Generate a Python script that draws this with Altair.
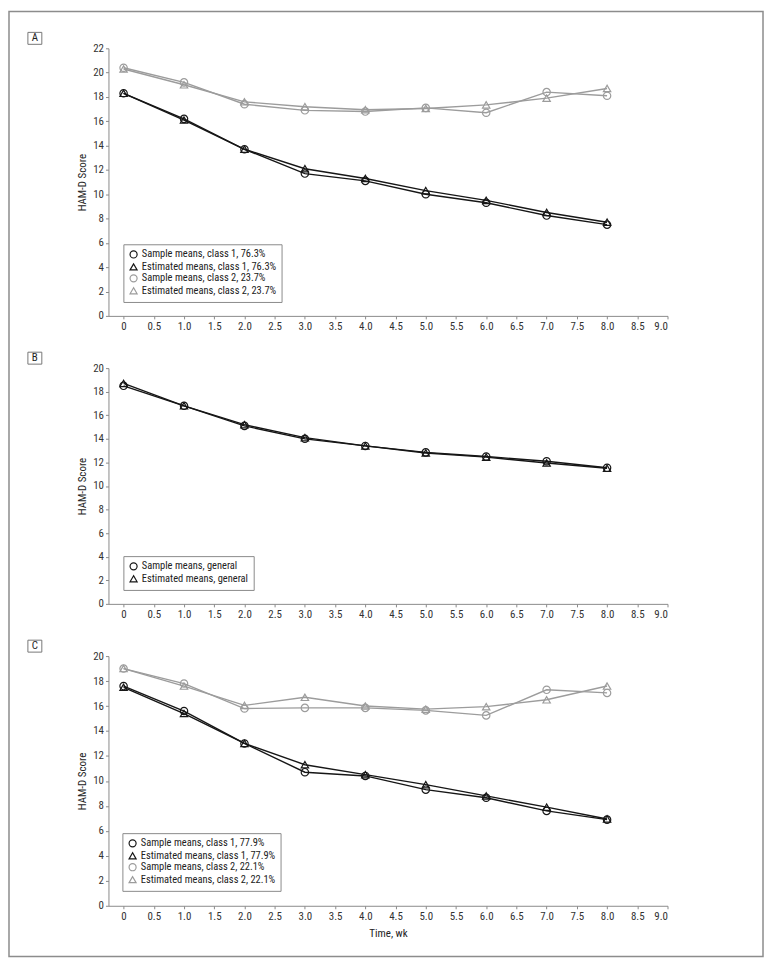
import altair as alt
import pandas as pd

weeks = [0, 1, 2, 3, 4, 5, 6, 7, 8]

# Panel A
A_names = ["Sample means, class 1, 76.3%", "Estimated means, class 1, 76.3%",
           "Sample means, class 2, 23.7%", "Estimated means, class 2, 23.7%"]
A_s1 = [18.3, 16.2, 13.7, 11.7, 11.1, 10.0, 9.3, 8.25, 7.5]
A_e1 = [18.3, 16.1, 13.7, 12.1, 11.3, 10.3, 9.5, 8.5, 7.7]
A_s2 = [20.4, 19.2, 17.4, 16.9, 16.8, 17.1, 16.7, 18.4, 18.1]
A_e2 = [20.3, 19.0, 17.6, 17.2, 16.95, 17.05, 17.35, 17.9, 18.7]

# Panel B
B_names = ["Sample means, general", "Estimated means, general"]
B_s = [18.5, 16.8, 15.1, 14.0, 13.4, 12.85, 12.5, 12.1, 11.55]
B_e = [18.7, 16.8, 15.2, 14.1, 13.4, 12.8, 12.45, 11.95, 11.5]

# Panel C
C_names = ["Sample means, class 1, 77.9%", "Estimated means, class 1, 77.9%",
           "Sample means, class 2, 22.1%", "Estimated means, class 2, 22.1%"]
C_s1 = [17.6, 15.6, 13.0, 10.7, 10.4, 9.3, 8.65, 7.6, 6.9]
C_e1 = [17.5, 15.4, 13.0, 11.3, 10.5, 9.7, 8.8, 7.9, 6.95]
C_s2 = [19.0, 17.8, 15.8, 15.85, 15.85, 15.65, 15.25, 17.3, 17.05]
C_e2 = [19.0, 17.6, 16.05, 16.7, 16.0, 15.75, 15.95, 16.5, 17.6]

x_ticks = [0, 0.5, 1, 1.5, 2, 2.5, 3, 3.5, 4, 4.5, 5, 5.5, 6, 6.5, 7, 7.5, 8, 8.5, 9]

FONT = "Liberation Sans Narrow, Roboto Condensed, Arial Narrow, Liberation Sans, sans-serif"
BLACK = "#161616"
GRAY = "#9c9c9c"
AXIS_GRAY = "#8a8a8a"


def make_df(names, series, classes):
    rows = []
    for name, vals, cls in zip(names, series, classes):
        for w, v in zip(weeks, vals):
            rows.append({"week": w, "score": v, "series": name, "cls": cls})
    return pd.DataFrame(rows)


def panel(label, names, series, classes, colors, shapes, ymax, height,
          leg_x, leg_y, xtitle=None, frame=False):
    df = make_df(names, series, classes)
    x_axis = alt.Axis(values=x_ticks,
                      labelExpr="datum.value == 0 ? '0' : format(datum.value, '.1f')",
                      title=xtitle, titlePadding=6)
    x = alt.X("week:Q", scale=alt.Scale(domain=[-0.25, 9], nice=False, zero=False),
              axis=x_axis)
    y = alt.Y("score:Q", scale=alt.Scale(domain=[0, ymax], nice=False),
              axis=alt.Axis(values=list(range(0, ymax + 1, 2)), format="d",
                            title="HAM-D Score", titlePadding=5))
    legend = alt.Legend(title=None, orient="none", legendX=leg_x, legendY=leg_y,
                        strokeColor="#8a8a8a", fillColor="white", padding=5,
                        labelFont=FONT, labelFontSize=10.5, labelColor="#222",
                        symbolSize=50, symbolStrokeWidth=1.2, rowPadding=-0.5,
                        symbolOffset=0, labelOffset=3)
    base = alt.Chart(df)
    lines = base.mark_line(strokeWidth=1.4).encode(
        x=x, y=y,
        stroke=alt.Stroke("cls:N", scale=alt.Scale(domain=["c1", "c2"], range=[BLACK, GRAY]),
                          legend=None),
        detail="series:N",
    )
    points = base.mark_point(filled=False, size=55, strokeWidth=1.2, opacity=1).encode(
        x=x, y=y,
        color=alt.Color("series:N", scale=alt.Scale(domain=names, range=colors), legend=legend),
        shape=alt.Shape("series:N", scale=alt.Scale(domain=names, range=shapes), legend=legend),
    )
    lab_df = pd.DataFrame({"label": [label]})
    box = alt.Chart(lab_df).mark_rect(fillOpacity=0, stroke="#777", strokeWidth=1).encode(
        x=alt.value(-81), x2=alt.value(-67), y=alt.value(-16), y2=alt.value(-4))
    txt = alt.Chart(lab_df).mark_text(font=FONT, fontSize=11, color="#222",
                                      align="center", baseline="middle").encode(
        x=alt.value(-74), y=alt.value(-10), text=alt.Text("label:N"))
    layers = [box, txt, lines, points]
    if frame:
        fr = alt.Chart(lab_df).mark_rect(fillOpacity=0, stroke="#8c8c8c", strokeWidth=1.5).encode(
            x=alt.value(-100), x2=alt.value(658), y=alt.value(-37), y2=alt.value(913))
        layers = [fr] + layers
    return alt.layer(*layers).properties(width=562, height=height)


pA = panel("A", A_names, [A_s1, A_e1, A_s2, A_e2], ["c1", "c1", "c2", "c2"],
           [BLACK, BLACK, GRAY, GRAY], ["circle", "triangle-up", "circle", "triangle-up"],
           22, 269, 15, 197, frame=True)
pB = panel("B", B_names, [B_s, B_e], ["c1", "c1"],
           [BLACK, BLACK], ["circle", "triangle-up"],
           20, 237, 15, 189)
pC = panel("C", C_names, [C_s1, C_e1, C_s2, C_e2], ["c1", "c1", "c2", "c2"],
           [BLACK, BLACK, GRAY, GRAY], ["circle", "triangle-up", "circle", "triangle-up"],
           20, 251, 14, 178, xtitle="Time, wk")

chart = alt.vconcat(pA, pB, pC, spacing=52.5, bounds="flush").resolve_scale(
    color="independent", shape="independent", stroke="independent",
    x="independent", y="independent"
).resolve_legend(
    color="independent", shape="independent"
).properties(
    padding=0, background="white"
).configure_view(stroke=None).configure_axis(
    domainColor=AXIS_GRAY, tickColor=AXIS_GRAY, tickSize=3, grid=False,
    labelFont=FONT, labelFontSize=11, labelColor="#333", labelPadding=2,
    titleFont=FONT, titleFontSize=11, titleFontWeight="normal", titleColor="#222",
)

chart.save("out.html", embed_options={"renderer": "svg", "actions": False})
